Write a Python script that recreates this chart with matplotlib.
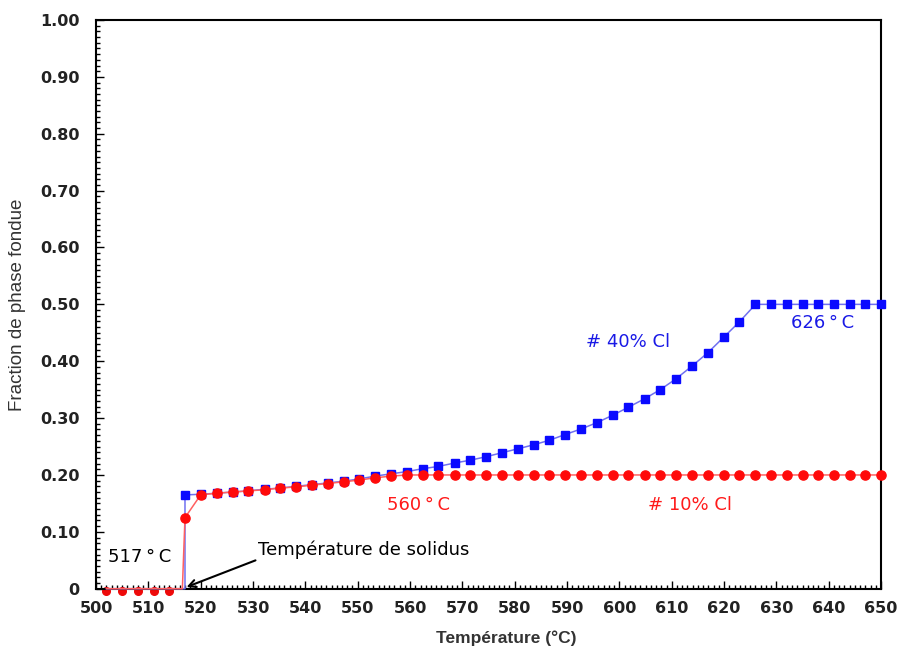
import matplotlib
matplotlib.use("Agg")
import matplotlib.pyplot as plt
from matplotlib.ticker import MultipleLocator, FixedLocator

# ---- data ----
temps_zero = [502, 505, 508, 511, 514]
zero_vals = [-0.004, -0.004, -0.004, -0.004, -0.004]
temps = [517, 520, 523.1, 526.1, 529.1, 532.2, 535.2, 538.2, 541.2, 544.3, 547.3,
         550.3, 553.3, 556.4, 559.4, 562.4, 565.4, 568.5, 571.5, 574.5, 577.5,
         580.6, 583.6, 586.6, 589.6, 592.7, 595.7, 598.7, 601.7, 604.8, 607.8,
         610.8, 613.8, 616.9, 619.9, 622.9, 626, 629, 632, 635, 638, 641, 644,
         647, 650]
cl40 = [0.165, 0.166, 0.168, 0.170, 0.172, 0.175, 0.177, 0.180, 0.183, 0.186, 0.189,
        0.193, 0.198, 0.202, 0.206, 0.211, 0.215, 0.221, 0.226, 0.232, 0.239,
        0.246, 0.253, 0.261, 0.271, 0.281, 0.292, 0.305, 0.319, 0.334, 0.350,
        0.369, 0.391, 0.415, 0.442, 0.469, 0.500, 0.500, 0.500, 0.500, 0.500,
        0.500, 0.500, 0.500, 0.500]
cl10 = [0.125, 0.165, 0.168, 0.170, 0.172, 0.174, 0.177, 0.179, 0.182, 0.185, 0.188,
        0.191, 0.195, 0.198, 0.200, 0.200, 0.200, 0.200, 0.200, 0.200, 0.200,
        0.200, 0.200, 0.200, 0.200, 0.200, 0.200, 0.200, 0.200, 0.200, 0.200,
        0.200, 0.200, 0.200, 0.200, 0.200, 0.200, 0.200, 0.200, 0.200, 0.200,
        0.200, 0.200, 0.200, 0.200]
solidus_cl40 = 517.0
solidus_cl10 = 516.5

yticks = [0, 0.1, 0.2, 0.3, 0.4, 0.5, 0.6, 0.7, 0.8, 0.9, 1.0]
ytick_labels = ["0", "0.10", "0.20", "0.30", "0.40", "0.50", "0.60", "0.70", "0.80", "0.90", "1.00"]
xticks = list(range(500, 651, 10))

fig = plt.figure(figsize=(8.99, 6.48), dpi=100)
ax = fig.add_axes([0.1068, 0.0915, 0.8733, 0.8776])

blue_x = temps_zero + [solidus_cl40] + temps
blue_y = [0] * len(temps_zero) + [0] + cl40
red_x = temps_zero + [solidus_cl10] + temps
red_y = [0] * len(temps_zero) + [0] + cl10

ax.plot(blue_x, blue_y, color="#7070f0", lw=1.1, marker="s", ms=5.2,
        mfc="#0a0aff", mec="#0a0aff", markevery=list(range(len(temps_zero) + 1, len(blue_x))),
        clip_on=False, zorder=3)
ax.plot(red_x, red_y, color="#ff6060", lw=1.1, marker="o", ms=6.6,
        mfc="#ff0a0a", mec="#ff0a0a", markevery=list(range(len(temps_zero) + 1, len(red_x))),
        clip_on=False, zorder=4)
ax.plot(temps_zero, zero_vals, ls="none", marker="o", ms=5.5,
        mfc="#ee0a0a", mec="#ee0a0a", clip_on=False, zorder=2)

ax.set_xlim(500, 650)
ax.set_ylim(0, 1.0)
ax.xaxis.set_major_locator(FixedLocator(xticks))
ax.xaxis.set_minor_locator(MultipleLocator(1))
ax.yaxis.set_major_locator(FixedLocator(yticks))
ax.yaxis.set_minor_locator(MultipleLocator(0.01))
ax.set_yticklabels(ytick_labels)
ax.set_xticklabels([str(t) for t in xticks])

ax.tick_params(which="both", direction="in", top=False, right=False, width=1.0)
ax.tick_params(which="major", length=6, labelsize=11.5)
ax.tick_params(axis="x", which="major", pad=9)
ax.tick_params(axis="y", which="major", pad=12)
ax.tick_params(which="minor", length=3)
for lab in ax.get_xticklabels() + ax.get_yticklabels():
    lab.set_fontweight("bold")
    lab.set_color("#222222")
for sp in ax.spines.values():
    sp.set_linewidth(1.5)

narrow = ["Liberation Sans Narrow", "Liberation Sans", "DejaVu Sans"]
ax.set_xlabel("Température (°C)", fontsize=12.5, fontweight="bold",
              family=narrow, color="#333333", labelpad=10, x=0.523)
ax.set_ylabel("Fraction de phase fondue", fontsize=13.5,
              family=narrow, color="#333333", labelpad=10)

ax.text(508.4, 0.056, "517\u2009°\u2009C", fontsize=13, ha="center", va="center", color="black")
ax.annotate("Température de solidus", xy=(517.3, 0.003), xytext=(531.0, 0.068),
            fontsize=13, ha="left", va="center", color="black",
            arrowprops=dict(arrowstyle="->", color="black", lw=1.5,
                            shrinkA=0, shrinkB=0, relpos=(0, 0)))
ax.text(561.7, 0.147, "560\u2009°\u2009C", fontsize=13, ha="center", va="center", color="#ff1a1a")
ax.text(613.5, 0.147, "# 10% Cl", fontsize=13, ha="center", va="center", color="#ff1a1a")
ax.text(601.7, 0.433, "# 40% Cl", fontsize=13, ha="center", va="center", color="#1a1ae6")
ax.text(638.9, 0.467, "626\u2009°\u2009C", fontsize=13, ha="center", va="center", color="#1a1ae6")

fig.savefig("out.png", dpi=100)
